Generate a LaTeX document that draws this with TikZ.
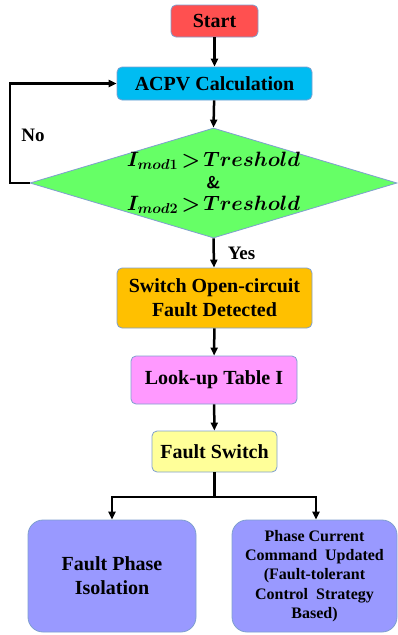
\documentclass[tikz,border=0pt]{standalone}
\usepackage{fontspec}
\setmainfont{Liberation Serif}
\usetikzlibrary{shapes.geometric,arrows.meta}
\definecolor{edgeblue}{HTML}{7F9FCF}
\definecolor{startred}{HTML}{FF5050}
\definecolor{acpvblue}{HTML}{00BCF2}
\definecolor{diagreen}{HTML}{66FF66}
\definecolor{detorange}{HTML}{FFC000}
\definecolor{lutpink}{HTML}{FF99FF}
\definecolor{fsyellow}{HTML}{FFFF99}
\definecolor{outpurple}{HTML}{9999FF}
\begin{document}
\begin{tikzpicture}[x=1pt,y=-1pt,
  box/.style={draw=edgeblue, line width=0.8pt, rounded corners=5pt, inner sep=0pt, align=center,
    font=\bfseries\fontsize{20}{24}\selectfont},
  bigbox/.style={box, rounded corners=15pt},
  conn/.style={line width=2.5pt, -{Triangle[length=8pt,width=7pt]}},
  plainline/.style={line width=2.5pt},
  lbl/.style={font=\bfseries\fontsize{19}{22}\selectfont, inner sep=0pt}]
\useasboundingbox (0,0) rectangle (397,635);

\node[box, fill=startred, minimum width=87pt, minimum height=32pt] (start) at (214.5,21) {Start};
\node[box, fill=acpvblue, minimum width=195pt, minimum height=33pt] (acpv) at (214.5,83.5) {ACPV Calculation};
\node[diamond, draw=edgeblue, line width=0.8pt, fill=diagreen, minimum width=367pt, minimum height=110pt, inner sep=0pt] (dec) at (213.5,183) {};
\node[align=center, inner sep=0pt, font=\fontsize{20}{24}\selectfont] (dectext) at (dec.center)
  {{\thickmuskip=2.5mu\boldmath$I_{mod1}>Treshold$}\\[-2pt]{\fontsize{17}{20}\selectfont\bfseries\sffamily\&}\\[-2pt]{\thickmuskip=2.5mu\boldmath$I_{mod2}>Treshold$}};
\node[box, fill=detorange, minimum width=195pt, minimum height=60pt] (det) at (214.5,298) {Switch Open-circuit\\Fault Detected};
\node[box, fill=lutpink, minimum width=166pt, minimum height=48pt] (lut) at (214,380) {Look-up Table I};
\node[box, fill=fsyellow, minimum width=125pt, minimum height=41pt] (fs) at (214.5,451.5) {Fault Switch};
\node[bigbox, fill=outpurple, minimum width=168pt, minimum height=112pt] (iso) at (112,576) {Fault Phase\\Isolation};
\node[bigbox, fill=outpurple, minimum width=165pt, minimum height=112pt,
  font=\bfseries\fontsize{16}{19.2}\selectfont] (upd) at (314.5,576)
  {Phase Current\\Command\ \ Updated\\(Fault-tolerant\\Control\ \ Strategy\\Based)};

\node[lbl] (no) at (33,135) {No};
\node[lbl] (yes) at (241.5,253) {Yes};

\coordinate (loop) at (10,183);
\coordinate (split) at (214.5,497);

\draw[conn] (start) -- (acpv);
\draw[conn] (acpv) -- (dec.north);
\draw[conn] (dec.west) -- (loop) |- (acpv.west);
\draw[conn] (dec.south) -- (det);
\draw[conn] (det) -- (lut);
\draw[conn] (lut) -- (fs);
\draw[plainline] (fs.south) -- (split);
\draw[conn] (split) -| (iso.north);
\draw[conn] (split) -| ([xshift=1.5pt]upd.north);
\end{tikzpicture}
\end{document}
